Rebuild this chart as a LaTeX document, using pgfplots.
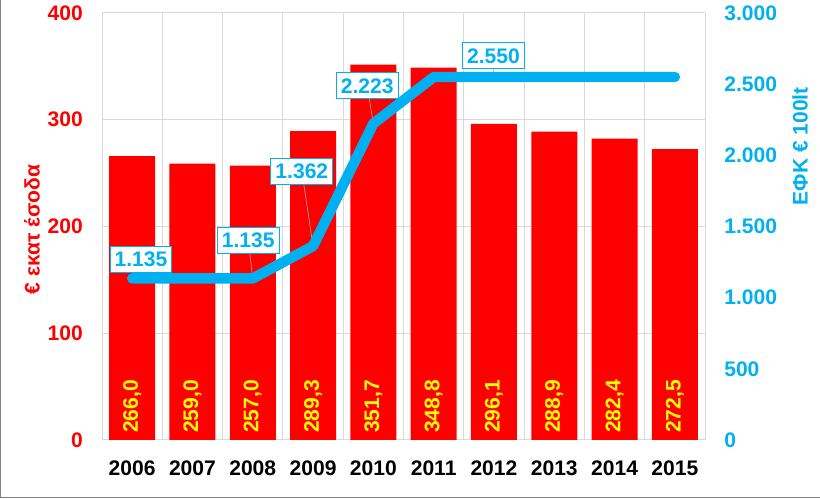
\documentclass[border=0pt]{standalone}
\usepackage{pgfplots}
\usepackage{pgfplotstable}
\pgfplotsset{compat=1.18}
\usepackage{fontspec}
\setmainfont{Liberation Sans}

\definecolor{barred}{RGB}{255,0,0}
\definecolor{efk}{RGB}{0,176,240}
\definecolor{lbl}{RGB}{255,255,0}
\definecolor{gridc}{RGB}{217,217,217}

\newcommand{\chartfont}{\bfseries\fontsize{15.8}{18}\selectfont}

\pgfplotsset{
  /pgf/number format/assume math mode=true,
  every tick label/.append style={font=\chartfont},
}

% revenue (million euro)
\pgfplotstableread{
x v
0 266.0
1 259.0
2 257.0
3 289.3
4 351.7
5 348.8
6 296.1
7 288.9
8 282.4
9 272.5
}\revenue

% excise duty (euro per 100 lt)
\pgfplotstableread{
x y
0 1135
1 1135
2 1135
3 1362
4 2223
5 2550
6 2550
7 2550
8 2550
9 2550
}\duty

% labelled points, offsets of the boxes in pt
\pgfplotstableread{
x y dx dy
0 1135 6.6 14.5
2 1135 -3.4 28.5
3 1362 -8.4 56.0
4 2223 -4.6 28.2
6 2550 -0.4 15.8
}\dutylabels

\begin{document}
\begin{tikzpicture}
\useasboundingbox (0,0) rectangle (615pt,374.25pt);
\draw[gray, line width=1.1pt] (0.5pt,374.25pt) -- (0.5pt,1.1pt) -- (615pt,1.1pt);

\begin{axis}[
  at={(76.5pt,44.25pt)}, anchor=south west,
  scale only axis, width=452.25pt, height=320.25pt,
  xmin=-0.5, xmax=9.5, ymin=0, ymax=400,
  xtick={0,...,9},
  xticklabels={2006,2007,2008,2009,2010,2011,2012,2013,2014,2015},
  minor xtick={-0.5,0.5,...,9.5},
  ytick={0,100,...,400},
  major tick length=0, minor tick length=0,
  xminorgrids, ymajorgrids,
  grid style={gridc, line width=0.75pt},
  minor grid style={gridc, line width=0.75pt},
  axis line style={draw=none},
  xticklabel style={anchor=base, yshift=-26.8pt, text=black},
  yticklabel style={anchor=east, inner sep=0pt, xshift=-14.25pt, text=barred},
  ylabel={€ εκατ έσοδα},
  every axis y label/.style={at={(axis description cs:-0.116,0.493)},
    rotate=90, anchor=center, font=\chartfont, text=barred},
]
\addplot[ybar, bar width=34.5pt, fill=barred, draw=none] table[x=x, y=v] {\revenue};
\addplot[draw=none, mark=none, point meta=explicit,
  nodes near coords={\pgfmathprintnumber[fixed,fixed zerofill,precision=1,use comma]{\pgfplotspointmeta}},
  every node near coord/.append style={anchor=west, rotate=90, inner xsep=5.25pt,
    inner ysep=0pt, font=\chartfont, text=lbl}]
  table[x=x, y expr=0, meta=v] {\revenue};
\end{axis}

\begin{axis}[
  at={(76.5pt,44.25pt)}, anchor=south west,
  scale only axis, width=452.25pt, height=320.25pt,
  xmin=-0.5, xmax=9.5, ymin=0, ymax=3000,
  axis y line*=right, hide x axis,
  ytick={0,500,...,3000},
  major tick length=0,
  axis line style={draw=none},
  yticklabel style={anchor=west, inner sep=0pt, xshift=14.25pt, text=efk,
    /pgf/number format/1000 sep={.}},
  ylabel={ΕΦΚ € 100lt},
  every axis y label/.style={at={(axis description cs:1.1575,0.688)},
    rotate=90, anchor=center, font=\chartfont, text=efk},
]
\draw[gray!70, line width=0.5pt] (axis cs:0,1135) -- ++(6.6pt,14.5pt);
\draw[gray!70, line width=0.5pt] (axis cs:2,1135) -- ++(-3.4pt,28.5pt);
\draw[gray!70, line width=0.5pt] (axis cs:3,1362) -- ++(-8.4pt,56pt);
\draw[gray!70, line width=0.5pt] (axis cs:4,2223) -- ++(-4.6pt,28.2pt);
\draw[gray!70, line width=0.5pt] (axis cs:6,2550) -- ++(-0.4pt,15.8pt);
\addplot[efk, line width=7.8pt, line cap=round, line join=round, mark=none]
  table[x=x, y=y] {\duty};
\addplot[draw=none, mark=none, point meta=explicit,
  visualization depends on={\thisrow{dx}\as\dx},
  visualization depends on={\thisrow{dy}\as\dy},
  nodes near coords={\pgfmathprintnumber[1000 sep={.}]{\pgfplotspointmeta}},
  every node near coord/.append style={anchor=center, xshift=\dx pt, yshift=\dy pt,
    fill=white, draw=efk, line width=0.75pt, inner xsep=3.4pt, inner ysep=0pt,
    minimum height=19.5pt, font=\chartfont, text=efk}]
  table[x=x, y=y, meta=y] {\dutylabels};
\end{axis}
\end{tikzpicture}
\end{document}
